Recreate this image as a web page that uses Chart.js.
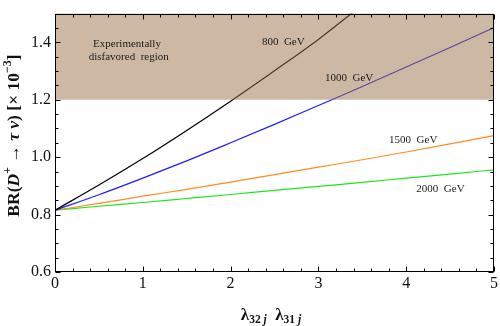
<!DOCTYPE html>
<html>
<head>
<meta charset="utf-8">
<script src="https://cdn.jsdelivr.net/npm/chart.js@4.4.1/dist/chart.umd.min.js"></script>
<style>
  html, body { margin: 0; padding: 0; background: #fff; }
  #wrap { width: 500px; height: 326px; position: relative; }
</style>
</head>
<body>
<div id="wrap"><canvas id="chart"></canvas></div>
<script>
// x = lambda_32j * lambda_31j
const lambdaProd = [0, 0.5, 1, 1.5, 2, 2.5, 3, 3.5, 4, 4.5, 5];
// BR(D+ -> tau nu) x 10^-3
const br800  = [0.815, 0.903, 0.995, 1.093, 1.195, 1.301, 1.410, 1.530, null, null, null];
const br1000 = [0.815, 0.869, 0.927, 0.987, 1.050, 1.114, 1.180, 1.246, 1.314, 1.382, 1.451];
const br1500 = [0.815, 0.839, 0.864, 0.888, 0.913, 0.939, 0.965, 0.991, 1.018, 1.046, 1.075];
const br2000 = [0.815, 0.829, 0.842, 0.856, 0.870, 0.884, 0.898, 0.912, 0.927, 0.941, 0.956];

const xTickValues = [0, 1, 2, 3, 4, 5];
const xTickLabels = ["0", "1", "2", "3", "4", "5"];
const yTickValues = [0.6, 0.8, 1.0, 1.2, 1.4];
const yTickLabels = ["0.6", "0.8", "1.0", "1.2", "1.4"];

// excluded band (lower / upper BR)
const bandLow = 1.2;
const bandHigh = 1.5;

// text labels placed in data coordinates
const notes = [
  { text: "Experimentally", x: 0.82, y: 1.395 },
  { text: "disfavored  region", x: 0.84, y: 1.348 },
  { text: "800  GeV", x: 2.6, y: 1.40 },
  { text: "1000  GeV", x: 3.35, y: 1.277 },
  { text: "1500  GeV", x: 4.08, y: 1.06 },
  { text: "2000  GeV", x: 4.39, y: 0.89 }
];

const SERIF = "'Liberation Serif', 'DejaVu Serif', serif";

function toPoints(ys) {
  return lambdaProd.map((x, i) => ({ x: x, y: ys[i] }));
}

function lineSet(label, ys, color) {
  return {
    label: label,
    data: toPoints(ys),
    borderColor: color,
    borderWidth: 1.2,
    pointRadius: 0,
    fill: false,
    cubicInterpolationMode: 'monotone'
  };
}

// draw text pieces one after another (for sub/superscripts)
function drawRuns(ctx, runs, cx, cy, rotate) {
  ctx.save();
  ctx.translate(cx, cy);
  if (rotate) ctx.rotate(-Math.PI / 2);
  let total = 0;
  runs.forEach(r => { ctx.font = r.font; total += ctx.measureText(r.text).width; });
  let x = -total / 2;
  ctx.textAlign = 'left';
  ctx.textBaseline = 'alphabetic';
  ctx.fillStyle = '#111';
  runs.forEach(r => {
    ctx.font = r.font;
    ctx.fillText(r.text, x, r.dy || 0);
    x += ctx.measureText(r.text).width;
  });
  ctx.restore();
}

const framePlugin = {
  id: 'frame',
  afterDatasetsDraw(chart) {
    const ctx = chart.ctx;
    const xs = chart.scales.x, ys = chart.scales.y;
    const a = chart.chartArea;

    // semi-transparent band on top of the curves
    const top = ys.getPixelForValue(bandHigh), bot = ys.getPixelForValue(bandLow);
    ctx.save();
    ctx.fillStyle = 'rgba(155, 115, 71, 0.5)';
    ctx.fillRect(xs.getPixelForValue(0), top, xs.getPixelForValue(5) - xs.getPixelForValue(0), bot - top);

    // labels
    ctx.fillStyle = '#1a1a1a';
    ctx.font = '11px ' + SERIF;
    ctx.textAlign = 'center';
    ctx.textBaseline = 'middle';
    notes.forEach(n => ctx.fillText(n.text, xs.getPixelForValue(n.x), ys.getPixelForValue(n.y)));

    // frame
    ctx.strokeStyle = '#000';
    ctx.lineWidth = 1;
    const L = Math.round(a.left) + 0.5, R = Math.round(a.right) - 0.5;
    const T = Math.round(a.top) + 0.5, B = Math.round(a.bottom) - 0.5;
    ctx.strokeRect(L, T, R - L, B - T);

    // inward ticks, mirrored on top and right
    ctx.beginPath();
    for (let i = 0; i <= 25; i++) {
      const v = i * 0.2;
      const len = (i % 5 === 0) ? 5 : 3;
      const px = Math.round(xs.getPixelForValue(v)) + 0.5;
      ctx.moveTo(px, B); ctx.lineTo(px, B - len);
      ctx.moveTo(px, T); ctx.lineTo(px, T + len);
    }
    for (let i = 0; i <= 18; i++) {
      const v = 0.6 + i * 0.05;
      const len = (i % 4 === 0) ? 5 : 3;
      const py = Math.round(ys.getPixelForValue(v)) + 0.5;
      ctx.moveTo(L, py); ctx.lineTo(L + len, py);
      ctx.moveTo(R, py); ctx.lineTo(R - len, py);
    }
    ctx.stroke();
    ctx.restore();

    // axis titles
    const bold = (s) => 'bold ' + s + 'px ' + SERIF;
    const boldIt = (s) => 'italic bold ' + s + 'px ' + SERIF;
    drawRuns(ctx, [
      { text: 'BR(', font: bold(17.5) },
      { text: 'D', font: boldIt(17.5) },
      { text: '+', font: bold(12), dy: -8 },
      { text: ' \u2192 ', font: bold(17.5) },
      { text: '\u03c4', font: boldIt(17.5) },
      { text: ' ', font: bold(17.5) },
      { text: '\u03bd', font: boldIt(17.5) },
      { text: ') [\u00d7 10', font: bold(17.5) },
      { text: '\u22123', font: bold(12), dy: -8 },
      { text: ']', font: bold(17.5) }
    ], 19, 135.5, true);

    drawRuns(ctx, [
      { text: '\u03bb', font: bold(17) },
      { text: '32 ', font: bold(11.5), dy: 3 },
      { text: 'j', font: boldIt(11.5), dy: 3 },
      { text: '  \u03bb', font: bold(17) },
      { text: '31 ', font: bold(11.5), dy: 3 },
      { text: 'j', font: boldIt(11.5), dy: 3 }
    ], 271, 319.5, false);
  }
};

new Chart(document.getElementById('chart'), {
  type: 'line',
  data: {
    datasets: [
      lineSet('800 GeV', br800, '#000000'),
      lineSet('1000 GeV', br1000, '#1e1eff'),
      lineSet('1500 GeV', br1500, '#ff8c1e'),
      lineSet('2000 GeV', br2000, '#1ee61e')
    ]
  },
  options: {
    responsive: true,
    maintainAspectRatio: false,
    animation: false,
    layout: { padding: { top: 1, right: 6, left: 0, bottom: 0 } },
    plugins: { legend: { display: false }, tooltip: { enabled: false } },
    scales: {
      x: {
        type: 'linear', min: 0, max: 5,
        afterFit(s) { s.height = 54; },
        afterBuildTicks(s) { s.ticks = xTickValues.map(v => ({ value: v })); },
        grid: { display: false, drawTicks: false },
        border: { display: false },
        ticks: {
          padding: 2,
          color: '#111',
          font: { family: SERIF, size: 16 },
          maxRotation: 0,
          callback: (v) => xTickLabels[xTickValues.indexOf(v)]
        }
      },
      y: {
        type: 'linear', min: 0.6, max: 1.5,
        afterFit(s) { s.width = 55; },
        afterBuildTicks(s) { s.ticks = yTickValues.map(v => ({ value: v })); },
        grid: { display: false, drawTicks: false },
        border: { display: false },
        ticks: {
          padding: 4,
          color: '#111',
          font: { family: SERIF, size: 16 },
          callback: (v) => yTickLabels[yTickValues.findIndex(t => Math.abs(t - v) < 1e-9)]
        }
      }
    }
  },
  plugins: [framePlugin]
});
</script>
</body>
</html>
